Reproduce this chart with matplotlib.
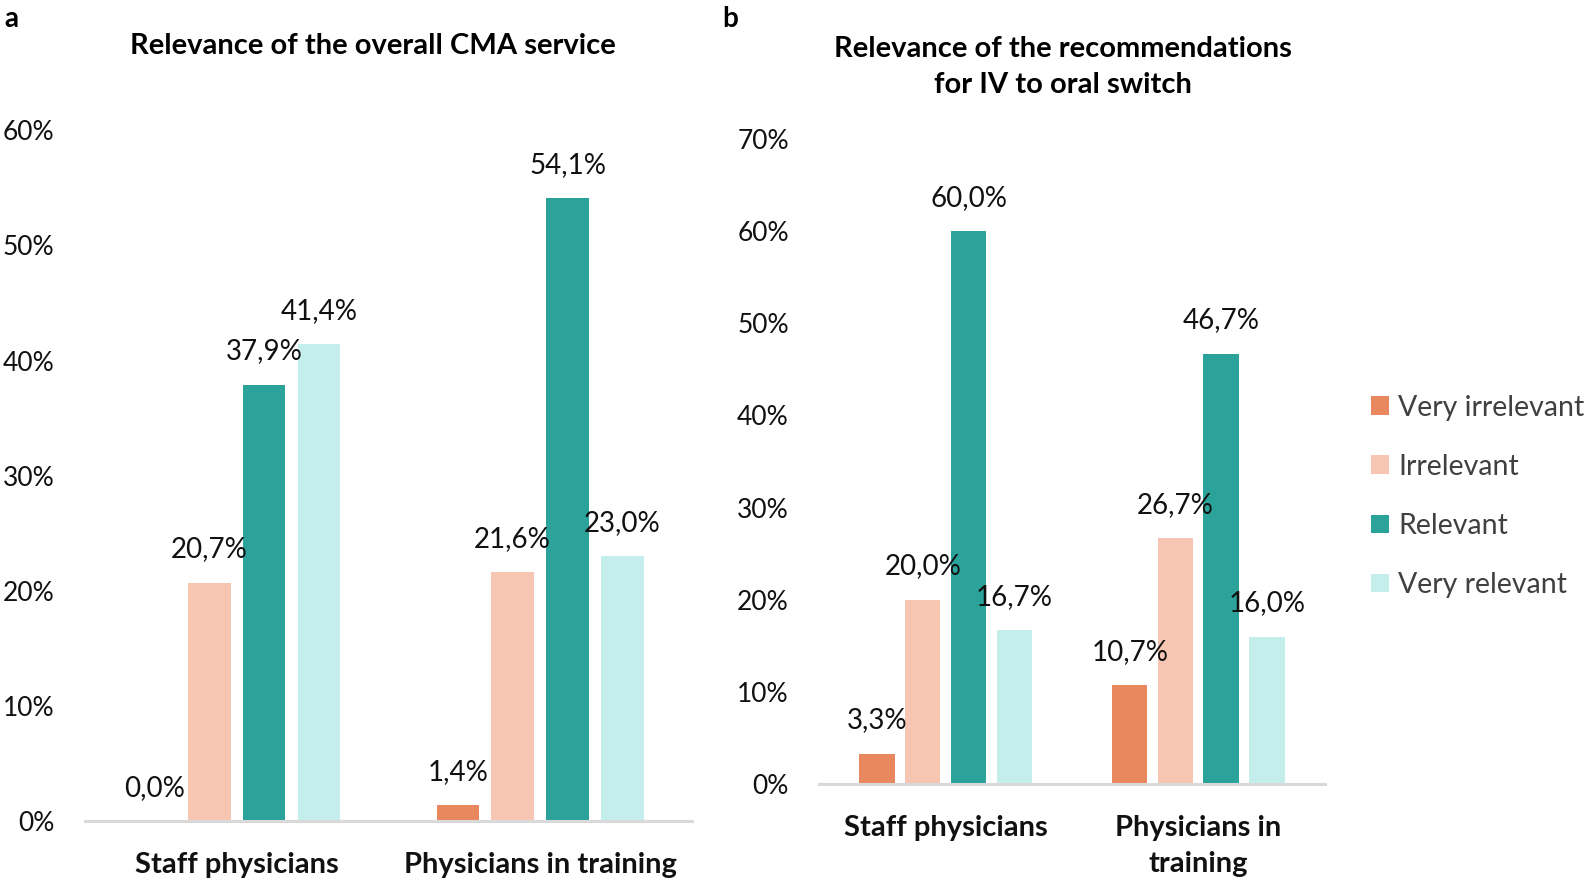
import numpy as np
import matplotlib
matplotlib.use("Agg")
import matplotlib.pyplot as plt
from matplotlib.patches import Patch

plt.rcParams['font.family'] = ['Lato', 'DejaVu Sans']

# Data
series = ['Very irrelevant', 'Irrelevant', 'Relevant', 'Very relevant']
colors = ['#E9885E', '#F6C6B3', '#2BA29A', '#C3EEEB']

groups_a = ['Staff physicians', 'Physicians in training']
cma_staff = [0.0, 20.7, 37.9, 41.4]
cma_training = [1.4, 21.6, 54.1, 23.0]

groups_b = ['Staff physicians', 'Physicians in\ntraining']
iv_staff = [3.3, 20.0, 60.0, 16.7]
iv_training = [10.7, 26.7, 46.7, 16.0]

fig = plt.figure(figsize=(15.94, 8.8), dpi=100)
ax_a = fig.add_axes([0.0534, 0.067, 0.3806, 0.785])
ax_b = fig.add_axes([0.514, 0.109, 0.317, 0.733])


def draw_panel(ax, groups, staff, training, ymax):
    x = np.arange(len(groups))
    vals = np.array([staff, training])
    for i in range(len(series)):
        xs = x + (i - 1.5) * 0.181
        bars = ax.bar(xs, vals[:, i], width=0.14, color=colors[i], zorder=2)
        for b, v in zip(bars, vals[:, i]):
            lab = f"{v:.1f}%".replace('.', ',')
            ax.annotate(lab, (b.get_x() + b.get_width() / 2, v),
                        xytext=(0, 24), textcoords='offset points',
                        ha='center', va='center', fontsize=20, color='#111111')
    ax.set_xlim(-0.5, 1.5)
    ax.set_ylim(0, ymax)
    ax.set_yticks(np.arange(0, ymax + 1, 10))
    ax.set_yticklabels([f"{t}%" for t in range(0, int(ymax) + 1, 10)])
    ax.set_xticks(x)
    ax.set_xticklabels(groups, fontweight='bold', fontsize=21, linespacing=1.5)
    for s in ['top', 'right', 'left']:
        ax.spines[s].set_visible(False)
    ax.spines['bottom'].set_color('#D9D9D9')
    ax.spines['bottom'].set_linewidth(2.2)
    ax.tick_params(axis='y', length=0, pad=22, labelsize=19, labelcolor='#111111')
    ax.tick_params(axis='x', length=0, pad=22, labelcolor='#111111')


draw_panel(ax_a, groups_a, cma_staff, cma_training, 60)
draw_panel(ax_b, groups_b, iv_staff, iv_training, 70)

fig.text(0.234, 0.948, 'Relevance of the overall CMA service', ha='center', va='center',
         fontsize=21, fontweight='bold')
fig.text(0.667, 0.924, 'Relevance of the recommendations\nfor IV to oral switch', ha='center',
         va='center', fontsize=21, fontweight='bold', linespacing=1.45)
fig.text(0.003, 0.978, 'a', ha='left', va='center', fontsize=20, fontweight='bold')
fig.text(0.453, 0.978, 'b', ha='left', va='center', fontsize=20, fontweight='bold')

handles = [Patch(facecolor=c, label=s) for c, s in zip(colors, series)]
leg = fig.legend(handles=handles, loc='center left', bbox_to_anchor=(0.853, 0.436),
                 frameon=False, fontsize=20.5, labelspacing=1.16, handlelength=0.63,
                 handleheight=0.63, handletextpad=0.32, borderaxespad=0)
for t in leg.get_texts():
    t.set_color('#404040')

fig.savefig('out.png', dpi=100)
